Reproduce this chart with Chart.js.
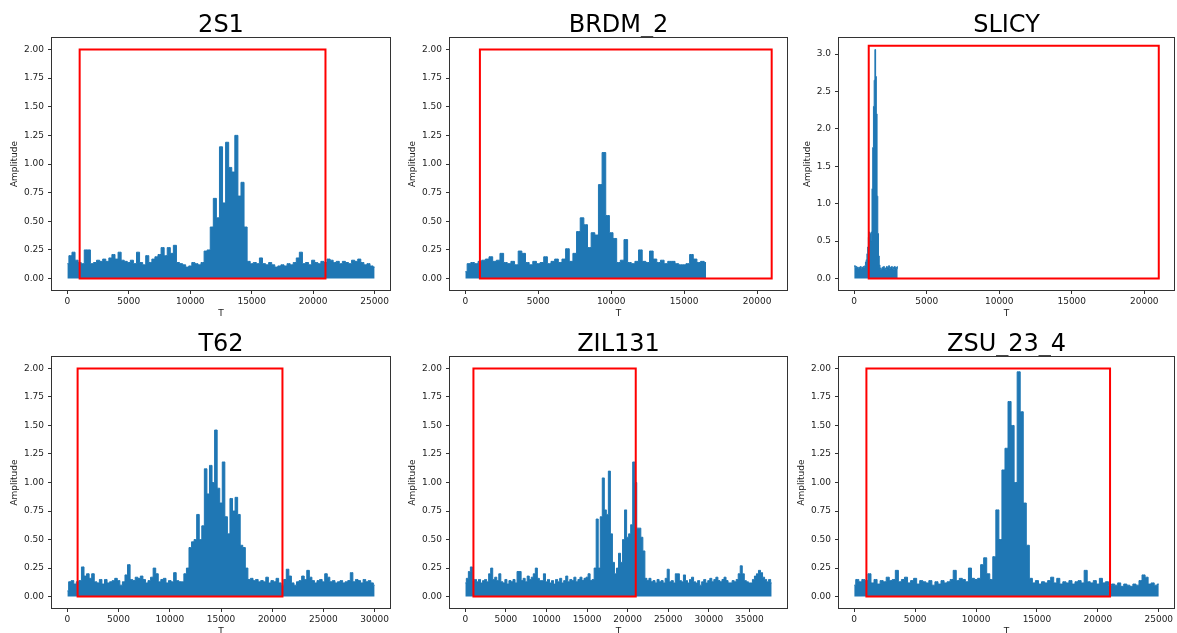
<!DOCTYPE html>
<html>
<head>
<meta charset="utf-8">
<script src="https://cdn.jsdelivr.net/npm/chart.js@4.4.1/dist/chart.umd.min.js"></script>
<style>
  html, body { margin: 0; padding: 0; background: #fff; overflow: hidden; }
  body { width: 1177px; height: 633px; position: relative; }
  canvas { position: absolute; }
</style>
</head>
<body>
<script>
// Nomi dei veicoli (titoli dei pannelli)
const names = ['2S1', 'BRDM_2', 'SLICY', 'T62', 'ZIL131', 'ZSU_23_4'];

// Passo di campionamento in T per ogni serie
const sampleStep = [250, 250, 50, 250, 250, 250];

// Inviluppo dell'ampiezza
const amp2S1 = [
  0.13, 0.20, 0.23, 0.16, 0.14, 0.13, 0.25, 0.25, 0.13, 0.14,
  0.16, 0.15, 0.17, 0.15, 0.18, 0.21, 0.17, 0.23, 0.16, 0.15,
  0.14, 0.16, 0.13, 0.23, 0.14, 0.12, 0.20, 0.14, 0.17, 0.19,
  0.21, 0.27, 0.20, 0.27, 0.22, 0.29, 0.14, 0.13, 0.12, 0.10,
  0.11, 0.14, 0.13, 0.12, 0.14, 0.24, 0.25, 0.45, 0.70, 0.53,
  1.15, 0.66, 1.19, 0.97, 0.93, 1.25, 0.72, 0.84, 0.45, 0.15,
  0.13, 0.14, 0.13, 0.18, 0.13, 0.12, 0.14, 0.12, 0.10, 0.11,
  0.12, 0.11, 0.13, 0.12, 0.14, 0.18, 0.23, 0.13, 0.14, 0.12,
  0.16, 0.14, 0.13, 0.15, 0.14, 0.17, 0.16, 0.14, 0.15, 0.13,
  0.15, 0.14, 0.13, 0.16, 0.15, 0.17, 0.14, 0.12, 0.13, 0.11,
  0.10
];
const ampBRDM = [
  0.06, 0.13, 0.14, 0.13, 0.15, 0.16, 0.17, 0.19, 0.15, 0.16,
  0.22, 0.14, 0.13, 0.15, 0.12, 0.24, 0.22, 0.14, 0.12, 0.15,
  0.13, 0.14, 0.19, 0.13, 0.15, 0.17, 0.14, 0.17, 0.26, 0.15,
  0.22, 0.41, 0.53, 0.47, 0.27, 0.40, 0.38, 0.82, 1.10, 0.55,
  0.40, 0.35, 0.14, 0.16, 0.34, 0.14, 0.13, 0.15, 0.25, 0.15,
  0.14, 0.24, 0.17, 0.14, 0.16, 0.13, 0.15, 0.15, 0.13, 0.12,
  0.12, 0.13, 0.21, 0.17, 0.14, 0.15, 0.14
];
const ampSLICY = [
  0.16, 0.17, 0.15, 0.16, 0.14, 0.15, 0.13, 0.15, 0.14, 0.16,
  0.13, 0.15, 0.14, 0.16, 0.15, 0.17, 0.22, 0.25, 0.33, 0.42,
  0.55, 0.62, 0.60, 0.50, 0.62, 1.20, 1.75, 2.30, 2.65, 3.06,
  2.70, 2.20, 1.10, 0.60, 0.30, 0.18, 0.14, 0.12, 0.13, 0.15,
  0.14, 0.16, 0.13, 0.14, 0.12, 0.16, 0.15, 0.14, 0.17, 0.13,
  0.15, 0.14, 0.16, 0.13, 0.15, 0.12, 0.16, 0.14, 0.15, 0.13,
  0.16
];
const ampT62 = [
  0.05, 0.13, 0.14, 0.11, 0.13, 0.14, 0.26, 0.18, 0.20, 0.16,
  0.20, 0.13, 0.12, 0.15, 0.11, 0.15, 0.12, 0.13, 0.14, 0.16,
  0.14, 0.10, 0.13, 0.19, 0.28, 0.15, 0.14, 0.17, 0.16, 0.18,
  0.15, 0.12, 0.14, 0.17, 0.25, 0.20, 0.13, 0.15, 0.16, 0.12,
  0.14, 0.13, 0.21, 0.14, 0.13, 0.13, 0.20, 0.25, 0.43, 0.48,
  0.50, 0.72, 0.50, 0.62, 1.12, 0.90, 1.15, 1.00, 1.46, 0.95,
  0.82, 1.18, 0.70, 0.55, 0.86, 0.75, 0.87, 0.72, 0.45, 0.43,
  0.25, 0.15, 0.16, 0.14, 0.15, 0.13, 0.14, 0.13, 0.17, 0.12,
  0.14, 0.13, 0.16, 0.12, 0.10, 0.15, 0.24, 0.18, 0.12, 0.10,
  0.13, 0.14, 0.18, 0.15, 0.23, 0.17, 0.14, 0.12, 0.14, 0.15,
  0.13, 0.20, 0.17, 0.13, 0.14, 0.12, 0.13, 0.14, 0.12, 0.13,
  0.14, 0.21, 0.13, 0.15, 0.14, 0.12, 0.15, 0.13, 0.14, 0.12,
  0.10
];
const ampZIL = [
  0.12, 0.16, 0.22, 0.26, 0.14, 0.15, 0.13, 0.15, 0.12, 0.14,
  0.15, 0.13, 0.20, 0.25, 0.15, 0.17, 0.14, 0.20, 0.13, 0.12,
  0.15, 0.11, 0.14, 0.13, 0.15, 0.12, 0.22, 0.22, 0.14, 0.16,
  0.13, 0.18, 0.15, 0.17, 0.20, 0.25, 0.16, 0.14, 0.14, 0.20,
  0.13, 0.15, 0.12, 0.14, 0.11, 0.15, 0.13, 0.16, 0.12, 0.14,
  0.18, 0.13, 0.15, 0.14, 0.17, 0.13, 0.15, 0.17, 0.14, 0.16,
  0.17, 0.20, 0.14, 0.15, 0.25, 0.68, 0.25, 0.70, 1.04, 0.76,
  0.72, 1.10, 0.55, 0.30, 0.20, 0.25, 0.38, 0.30, 0.50, 0.76,
  0.52, 0.55, 0.63, 1.18, 1.00, 0.60, 0.60, 0.52, 0.40, 0.16,
  0.14, 0.16, 0.13, 0.14, 0.12, 0.15, 0.13, 0.14, 0.12, 0.16,
  0.24, 0.13, 0.14, 0.12, 0.20, 0.20, 0.14, 0.13, 0.19, 0.14,
  0.12, 0.15, 0.17, 0.13, 0.12, 0.14, 0.10, 0.13, 0.15, 0.12,
  0.14, 0.16, 0.13, 0.15, 0.17, 0.14, 0.13, 0.15, 0.17, 0.14,
  0.12, 0.12, 0.14, 0.13, 0.15, 0.20, 0.27, 0.20, 0.14, 0.13,
  0.12, 0.12, 0.15, 0.18, 0.20, 0.23, 0.21, 0.17, 0.15, 0.13,
  0.15, 0.12
];
const ampZSU = [
  0.10, 0.15, 0.13, 0.15, 0.14, 0.20, 0.12, 0.15, 0.11, 0.14,
  0.13, 0.17, 0.14, 0.15, 0.23, 0.13, 0.15, 0.17, 0.12, 0.14,
  0.16, 0.11, 0.14, 0.13, 0.12, 0.14, 0.10, 0.13, 0.11, 0.14,
  0.12, 0.13, 0.15, 0.23, 0.14, 0.16, 0.15, 0.13, 0.25, 0.16,
  0.15, 0.16, 0.28, 0.34, 0.20, 0.15, 0.35, 0.76, 0.50, 1.11,
  1.30, 1.71, 1.50, 1.00, 1.97, 1.62, 0.82, 0.45, 0.16, 0.12,
  0.14, 0.11, 0.13, 0.12, 0.14, 0.17, 0.12, 0.16, 0.11, 0.13,
  0.12, 0.14, 0.11, 0.13, 0.14, 0.12, 0.23, 0.13, 0.12, 0.14,
  0.11, 0.16, 0.12, 0.13, 0.10, 0.11, 0.10, 0.12, 0.09, 0.11,
  0.10, 0.09, 0.11, 0.10, 0.14, 0.19, 0.17, 0.11, 0.12, 0.10,
  0.11
];
const amplitudes = [amp2S1, ampBRDM, ampSLICY, ampT62, ampZIL, ampZSU];

// Riquadro rosso (inizio, fine, altezza)
const boxStart = 1000;
const boxEnd = 21000;
const boxHeight = [2, 2, 3.11, 2, 2, 2];

// Tacche degli assi
const xTicks = [
  [0, 5000, 10000, 15000, 20000, 25000],
  [0, 5000, 10000, 15000, 20000],
  [0, 5000, 10000, 15000, 20000],
  [0, 5000, 10000, 15000, 20000, 25000, 30000],
  [0, 5000, 10000, 15000, 20000, 25000, 30000, 35000],
  [0, 5000, 10000, 15000, 20000, 25000]
];
const yTicksStd = [0, 0.25, 0.5, 0.75, 1, 1.25, 1.5, 1.75, 2];
const yTicksSlicy = [0, 0.5, 1, 1.5, 2, 2.5, 3];
const yTicks = [yTicksStd, yTicksStd, yTicksSlicy, yTicksStd, yTicksStd, yTicksStd];
const yDigits = [2, 2, 1, 2, 2, 2];

// Limiti degli assi (margini come matplotlib)
const xLimits = [[-1250, 26250], [-1050, 22050], [-1050, 22050], [-1500, 31500], [-1887.5, 39637.5], [-1250, 26250]];
const yLimits = [[-0.1, 2.1], [-0.1, 2.1], [-0.155, 3.215], [-0.1, 2.1], [-0.1, 2.1], [-0.1, 2.1]];

// Posizione degli assi nella pagina: left, top, width, height
const panelBox = [
  [52, 38, 338, 252], [450, 38, 337, 252], [839, 38, 335, 252],
  [52, 357, 338, 251], [450, 357, 337, 251], [839, 357, 335, 251]
];
const yTitlePad = [7.5, 7.5, 13.5, 7.5, 7.5, 7.2];

const Y_AXIS_W = 50;
const X_AXIS_H = 30;
const TITLE_H = 28;

Chart.defaults.font.family = 'DejaVu Sans';
Chart.defaults.font.size = 9;

// Cornice nera attorno all'area del grafico
const frame = {
  id: 'frame',
  afterDraw(chart) {
    const { ctx, chartArea: a } = chart;
    ctx.save();
    ctx.strokeStyle = '#333';
    ctx.lineWidth = 1;
    ctx.strokeRect(a.left - 0.5, a.top - 0.5, a.right - a.left + 1, a.bottom - a.top + 1);
    ctx.restore();
  }
};

function drawPanel(i) {
  const [left, top, w, h] = panelBox[i];
  const cv = document.createElement('canvas');
  const cw = w + 2 * Y_AXIS_W;
  const ch = h + TITLE_H + X_AXIS_H;
  cv.width = cw;
  cv.height = ch;
  cv.style.width = cw + 'px';
  cv.style.height = ch + 'px';
  cv.style.left = (left - Y_AXIS_W) + 'px';
  cv.style.top = (top - TITLE_H) + 'px';
  document.body.appendChild(cv);

  const signal = amplitudes[i].map((v, k) => ({ x: k * sampleStep[i], y: v }));
  const bx = [boxStart, boxStart, boxEnd, boxEnd, boxStart];
  const by = [0, boxHeight[i], boxHeight[i], 0, 0];
  const box = bx.map((x, k) => ({ x: x, y: by[k] }));

  new Chart(cv, {
    type: 'line',
    data: {
      datasets: [
        {
          data: box,
          borderColor: '#ff0000',
          borderWidth: 2,
          pointRadius: 0,
          fill: false,
          borderJoinStyle: 'miter',
          borderCapStyle: 'square',
          order: 0
        },
        {
          data: signal,
          borderColor: '#1f77b4',
          backgroundColor: '#1f77b4',
          borderWidth: 1,
          pointRadius: 0,
          stepped: 'middle',
          fill: 'origin',
          order: 1
        }
      ]
    },
    options: {
      responsive: false,
      animation: false,
      events: [],
      layout: { padding: 0 },
      plugins: {
        legend: { display: false },
        tooltip: { enabled: false },
        title: {
          display: true,
          text: names[i],
          color: '#000',
          font: { size: 24, lineHeight: 1, weight: 'normal' },
          padding: { top: 4, bottom: 0 }
        }
      },
      scales: {
        x: {
          type: 'linear',
          min: xLimits[i][0],
          max: xLimits[i][1],
          afterFit: s => { s.height = X_AXIS_H; },
          afterBuildTicks: s => { s.ticks = xTicks[i].map(v => ({ value: v })); },
          ticks: { autoSkip: false, maxRotation: 0, padding: 2, color: '#222', callback: v => String(v) },
          grid: { drawOnChartArea: false, tickLength: 4, color: '#333' },
          border: { display: false },
          title: { display: true, text: 'T', color: '#222', padding: { top: 0, bottom: 0.6 } }
        },
        y: {
          type: 'linear',
          min: yLimits[i][0],
          max: yLimits[i][1],
          afterFit: s => { s.width = Y_AXIS_W; },
          afterBuildTicks: s => { s.ticks = yTicks[i].map(v => ({ value: v })); },
          ticks: { autoSkip: false, padding: 4, color: '#222', callback: v => Number(v).toFixed(yDigits[i]) },
          grid: { drawOnChartArea: false, tickLength: 4, color: '#333' },
          border: { display: false },
          title: { display: true, text: 'Amplitude', color: '#222', padding: { top: yTitlePad[i], bottom: 0 } }
        },
        // asse vuoto a destra: bilancia lo spazio cosi' il titolo resta centrato
        yRight: {
          type: 'linear',
          position: 'right',
          min: 0,
          max: 1,
          afterFit: s => { s.width = Y_AXIS_W; },
          ticks: { display: false },
          grid: { display: false },
          border: { display: false }
        }
      }
    },
    plugins: [frame]
  });
}

for (let i = 0; i < names.length; i++) {
  drawPanel(i);
}
</script>
</body>
</html>
